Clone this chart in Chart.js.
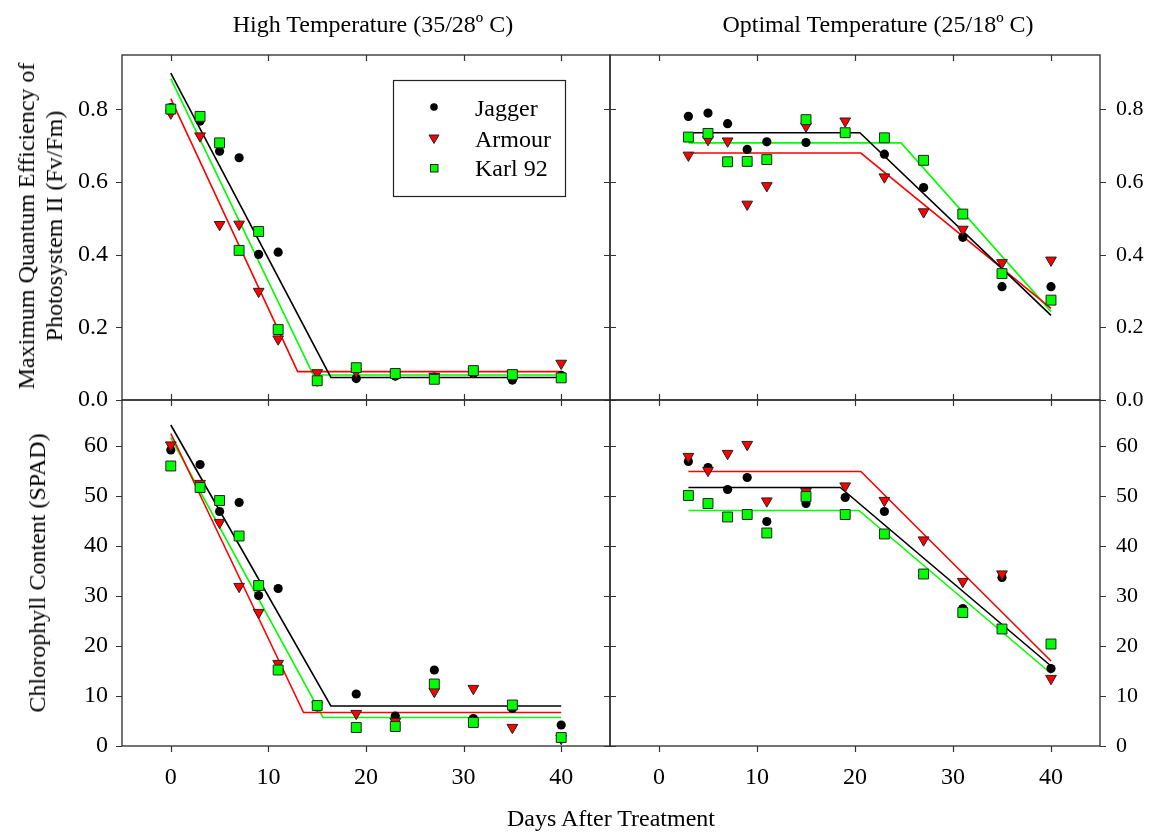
<!DOCTYPE html>
<html><head><meta charset="utf-8">
<script src="https://cdn.jsdelivr.net/npm/chart.js@4/dist/chart.umd.min.js"></script>
<style>
html,body{margin:0;padding:0;background:#fff;}
#wrap{position:relative;width:1152px;height:836px;overflow:hidden;font-family:"Liberation Serif","Times New Roman",serif;color:#000;}
canvas{position:absolute;left:0;top:0;}
.t{position:absolute;font-size:24px;white-space:nowrap;line-height:28px;text-align:center;}
</style></head><body>
<div id="wrap">
<canvas id="cTL" width="1152" height="836"></canvas>
<canvas id="cTR" width="1152" height="836"></canvas>
<canvas id="cBL" width="1152" height="836"></canvas>
<canvas id="cBR" width="1152" height="836"></canvas>
<div class="t" style="left:373px;top:10px;transform:translateX(-50%);">High Temperature (35/28º C)</div>
<div class="t" style="left:878px;top:10px;transform:translateX(-50%);">Optimal Temperature (25/18º C)</div>
<div class="t" style="left:611px;top:804px;transform:translateX(-50%);">Days After Treatment</div>
<div class="t" style="left:40px;top:226px;transform:translate(-50%,-50%) rotate(-90deg);">Maximum Quantum Efficiency of<br>Photosystem II (Fv/Fm)</div>
<div class="t" style="left:37px;top:573px;transform:translate(-50%,-50%) rotate(-90deg);">Chlorophyll Content (SPAD)</div>
</div>
<script>
// ---------- data ----------
const cultivars = ['Jagger', 'Armour', 'Karl 92'];
const daysHigh = [0, 3, 5, 7, 9, 11, 15, 19, 23, 27, 31, 35, 40];
const daysOpt = [3, 5, 7, 9, 11, 15, 19, 23, 27, 31, 35, 40];
const xTickValues = [0, 10, 20, 30, 40];
const fvfmTickValues = [0, 0.2, 0.4, 0.6, 0.8];
const spadTickValues = [0, 10, 20, 30, 40, 50, 60];

// Fv/Fm, high temperature
const fvfmHighJagger = [0.805, 0.768, 0.685, 0.667, 0.401, 0.407, 0.050, 0.059, 0.066, 0.063, 0.073, 0.055, 0.068];
const fvfmHighArmour = [0.790, 0.727, 0.483, 0.484, 0.299, 0.168, 0.075, 0.078, 0.070, 0.065, 0.078, 0.073, 0.101];
const fvfmHighKarl = [0.801, 0.781, 0.708, 0.412, 0.464, 0.194, 0.053, 0.089, 0.073, 0.057, 0.081, 0.070, 0.061];
// Fv/Fm, optimal temperature
const fvfmOptJagger = [0.781, 0.790, 0.761, 0.690, 0.711, 0.709, 0.735, 0.677, 0.585, 0.448, 0.312, 0.312];
const fvfmOptArmour = [0.674, 0.717, 0.713, 0.539, 0.590, 0.754, 0.768, 0.614, 0.518, 0.470, 0.378, 0.385];
const fvfmOptKarl = [0.724, 0.734, 0.656, 0.657, 0.662, 0.772, 0.736, 0.722, 0.660, 0.512, 0.348, 0.275];
// SPAD, high temperature
const spadHighJagger = [59.2, 56.3, 46.9, 48.7, 30.1, 31.5, 7.8, 10.4, 6.0, 15.2, 5.5, 7.5, 4.2];
const spadHighArmour = [60.2, 52.5, 44.7, 31.9, 26.7, 16.5, 8.2, 6.5, 4.9, 10.9, 11.5, 3.7, 1.5];
const spadHighKarl = [56.0, 51.7, 49.1, 42.0, 32.1, 15.2, 8.1, 3.7, 3.9, 12.4, 4.7, 8.2, 1.7];
// SPAD, optimal temperature
const spadOptJagger = [56.9, 55.7, 51.3, 53.7, 44.9, 48.5, 49.7, 46.9, 34.5, 27.5, 33.7, 15.5];
const spadOptArmour = [57.9, 55.1, 58.5, 60.3, 49.0, 50.9, 52.0, 49.1, 41.2, 32.9, 34.4, 13.5];
const spadOptKarl = [50.1, 48.5, 45.8, 46.3, 42.6, 49.9, 46.3, 42.4, 34.4, 26.7, 23.4, 20.4];

// Segmented regression fits (x and y of start, break, end)
const fitFvfmHighJaggerX = [0, 16.4, 40], fitFvfmHighJaggerY = [0.900, 0.062, 0.062];
const fitFvfmHighArmourX = [0, 13.0, 40], fitFvfmHighArmourY = [0.830, 0.078, 0.078];
const fitFvfmHighKarlX = [0, 14.6, 40], fitFvfmHighKarlY = [0.885, 0.069, 0.069];
const fitFvfmOptJaggerX = [3, 20.5, 40], fitFvfmOptJaggerY = [0.736, 0.736, 0.233];
const fitFvfmOptArmourX = [3, 20.6, 40], fitFvfmOptArmourY = [0.680, 0.680, 0.252];
const fitFvfmOptKarlX = [3, 24.7, 40], fitFvfmOptKarlY = [0.708, 0.708, 0.244];
const fitSpadHighJaggerX = [0, 16.4, 40], fitSpadHighJaggerY = [64.2, 8.0, 8.0];
const fitSpadHighArmourX = [0, 13.6, 40], fitSpadHighArmourY = [62.5, 6.7, 6.7];
const fitSpadHighKarlX = [0, 15.6, 40], fitSpadHighKarlY = [61.7, 5.7, 5.7];
const fitSpadOptJaggerX = [3, 18.5, 40], fitSpadOptJaggerY = [51.7, 51.7, 16.0];
const fitSpadOptArmourX = [3, 20.6, 40], fitSpadOptArmourY = [54.9, 54.9, 17.0];
const fitSpadOptKarlX = [3, 20.4, 40], fitSpadOptKarlY = [47.1, 47.1, 14.5];

// ---------- styles ----------
const FONT = '"Liberation Serif","Times New Roman",serif';
const RED = '#ff0000', GREEN = '#00ff00', BLACK = '#000000';
const zip = (xs, ys) => xs.map((x, i) => ({x: x, y: ys[i]}));

function markerSet(label, xs, ys, kind) {
  const base = {type: 'scatter', label: label, data: zip(xs, ys), showLine: false};
  if (kind === 'circle') return Object.assign(base, {pointStyle: 'circle', pointRadius: 4.6, backgroundColor: BLACK, borderColor: BLACK, borderWidth: 0, order: 2});
  if (kind === 'tri') return Object.assign(base, {pointStyle: 'triangle', rotation: 180, pointRotation: 180, pointRadius: 6.2, backgroundColor: RED, borderColor: '#222', borderWidth: 1, order: 1});
  return Object.assign(base, {pointStyle: 'rect', pointRadius: 7.0, backgroundColor: GREEN, borderColor: '#222', borderWidth: 1, order: 0});
}
function fitLine(xs, ys, color) {
  return {type: 'scatter', label: 'fit', data: zip(xs, ys), showLine: true, pointRadius: 0, borderColor: color, borderWidth: 1.6, backgroundColor: color, order: 5};
}

const framePlugin = {
  id: 'frame',
  afterDraw(chart, args, opts) {
    const ctx = chart.ctx, ca = chart.chartArea;
    const xs = chart.scales.x, ys = chart.scales.y;
    const L = 6;
    ctx.save();
    ctx.strokeStyle = '#2a2a2a';
    ctx.lineWidth = 1.3;
    ctx.strokeRect(ca.left, ca.top, ca.right - ca.left, ca.bottom - ca.top);
    ctx.lineWidth = 1.2;
    ctx.strokeStyle = '#333';
    ctx.beginPath();
    xs.ticks.forEach(t => {
      const px = Math.round(xs.getPixelForValue(t.value)) + 0.5;
      ctx.moveTo(px, ca.top); ctx.lineTo(px, ca.top + (opts.top === 'in' ? L : -L));
      ctx.moveTo(px, ca.bottom); ctx.lineTo(px, ca.bottom + (opts.bottom === 'in' ? -L : L));
    });
    ys.ticks.forEach(t => {
      const py = Math.round(ys.getPixelForValue(t.value)) + 0.5;
      ctx.moveTo(ca.left, py); ctx.lineTo(ca.left + (opts.left === 'in' ? L : -L), py);
      ctx.moveTo(ca.right, py); ctx.lineTo(ca.right + (opts.right === 'in' ? -L : L), py);
    });
    ctx.stroke();
    if (opts.legend) {
      ctx.lineWidth = 1.2;
      ctx.strokeStyle = '#222';
      ctx.strokeRect(393.5, 80.5, 172, 116);
      ctx.fillStyle = BLACK;
      ctx.beginPath(); ctx.arc(434, 107, 3.8, 0, Math.PI * 2); ctx.fill();
      ctx.fillStyle = RED; ctx.strokeStyle = '#222'; ctx.lineWidth = 1;
      ctx.beginPath(); ctx.moveTo(429, 135); ctx.lineTo(439, 135); ctx.lineTo(434, 143.5); ctx.closePath(); ctx.fill(); ctx.stroke();
      ctx.fillStyle = GREEN;
      ctx.fillRect(430.5, 164.5, 7.5, 7.5); ctx.strokeRect(430.5, 164.5, 7.5, 7.5);
      ctx.fillStyle = '#000';
      ctx.font = '24px ' + FONT;
      ctx.textAlign = 'left'; ctx.textBaseline = 'alphabetic';
      ctx.fillText(cultivars[0], 475, 116);
      ctx.fillText(cultivars[1], 475, 147);
      ctx.fillText(cultivars[2], 475, 176);
    }
    ctx.restore();
  }
};

function makeChart(id, p) {
  const yTicks = p.yTicks;
  return new Chart(document.getElementById(id), {
    type: 'scatter',
    data: {datasets: p.datasets},
    plugins: [framePlugin],
    options: {
      responsive: false, animation: false, devicePixelRatio: 1,
      layout: {padding: p.padding},
      plugins: {legend: {display: false}, tooltip: {enabled: false}, frame: p.frame},
      scales: {
        x: {
          type: 'linear', min: -5, max: 45, position: 'bottom',
          afterBuildTicks: s => { s.ticks = xTickValues.map(v => ({value: v})); },
          ticks: {display: p.showX, font: {family: FONT, size: 24}, color: '#000', padding: 17, maxRotation: 0, callback: v => String(v)},
          grid: {display: false, drawTicks: false}, border: {display: false},
          afterFit: s => { s.height = p.showX ? 90 : 0; }
        },
        y: {
          type: 'linear', min: 0, max: p.yMax, position: p.ySide,
          afterBuildTicks: s => { s.ticks = yTicks.map(v => ({value: v})); },
          ticks: {font: {family: FONT, size: p.ySide === 'left' ? 24 : 22}, color: '#000', padding: p.ySide === 'left' ? 14 : 16, callback: p.fmt},
          grid: {display: false, drawTicks: false}, border: {display: false},
          afterFit: s => { s.width = p.ySide === 'left' ? 122 : 52; }
        }
      }
    }
  });
}

const fmt1 = v => Number(v).toFixed(1);
const fmt0 = v => String(Math.round(v));

makeChart('cTL', {
  padding: {left: 0, top: 55, right: 542, bottom: 436}, showX: false, yMax: 0.95, ySide: 'left', yTicks: fvfmTickValues, fmt: fmt1,
  frame: {left: 'out', right: 'in', top: 'in', bottom: 'in', legend: true},
  datasets: [
    markerSet(cultivars[2], daysHigh, fvfmHighKarl, 'square'),
    markerSet(cultivars[1], daysHigh, fvfmHighArmour, 'tri'),
    markerSet(cultivars[0], daysHigh, fvfmHighJagger, 'circle'),
    fitLine(fitFvfmHighJaggerX, fitFvfmHighJaggerY, BLACK),
    fitLine(fitFvfmHighArmourX, fitFvfmHighArmourY, RED),
    fitLine(fitFvfmHighKarlX, fitFvfmHighKarlY, GREEN)
  ]
});
makeChart('cTR', {
  padding: {left: 610, top: 55, right: 0, bottom: 436}, showX: false, yMax: 0.95, ySide: 'right', yTicks: fvfmTickValues, fmt: fmt1,
  frame: {left: 'in', right: 'out', top: 'in', bottom: 'in'},
  datasets: [
    markerSet(cultivars[2], daysOpt, fvfmOptKarl, 'square'),
    markerSet(cultivars[1], daysOpt, fvfmOptArmour, 'tri'),
    markerSet(cultivars[0], daysOpt, fvfmOptJagger, 'circle'),
    fitLine(fitFvfmOptJaggerX, fitFvfmOptJaggerY, BLACK),
    fitLine(fitFvfmOptArmourX, fitFvfmOptArmourY, RED),
    fitLine(fitFvfmOptKarlX, fitFvfmOptKarlY, GREEN)
  ]
});
makeChart('cBL', {
  padding: {left: 0, top: 400, right: 542, bottom: 0}, showX: true, yMax: 69.2, ySide: 'left', yTicks: spadTickValues, fmt: fmt0,
  frame: {left: 'out', right: 'in', top: 'in', bottom: 'out'},
  datasets: [
    markerSet(cultivars[2], daysHigh, spadHighKarl, 'square'),
    markerSet(cultivars[1], daysHigh, spadHighArmour, 'tri'),
    markerSet(cultivars[0], daysHigh, spadHighJagger, 'circle'),
    fitLine(fitSpadHighJaggerX, fitSpadHighJaggerY, BLACK),
    fitLine(fitSpadHighArmourX, fitSpadHighArmourY, RED),
    fitLine(fitSpadHighKarlX, fitSpadHighKarlY, GREEN)
  ]
});
makeChart('cBR', {
  padding: {left: 610, top: 400, right: 0, bottom: 0}, showX: true, yMax: 69.2, ySide: 'right', yTicks: spadTickValues, fmt: fmt0,
  frame: {left: 'in', right: 'out', top: 'in', bottom: 'out'},
  datasets: [
    markerSet(cultivars[2], daysOpt, spadOptKarl, 'square'),
    markerSet(cultivars[1], daysOpt, spadOptArmour, 'tri'),
    markerSet(cultivars[0], daysOpt, spadOptJagger, 'circle'),
    fitLine(fitSpadOptJaggerX, fitSpadOptJaggerY, BLACK),
    fitLine(fitSpadOptArmourX, fitSpadOptArmourY, RED),
    fitLine(fitSpadOptKarlX, fitSpadOptKarlY, GREEN)
  ]
});
</script>
</body></html>
